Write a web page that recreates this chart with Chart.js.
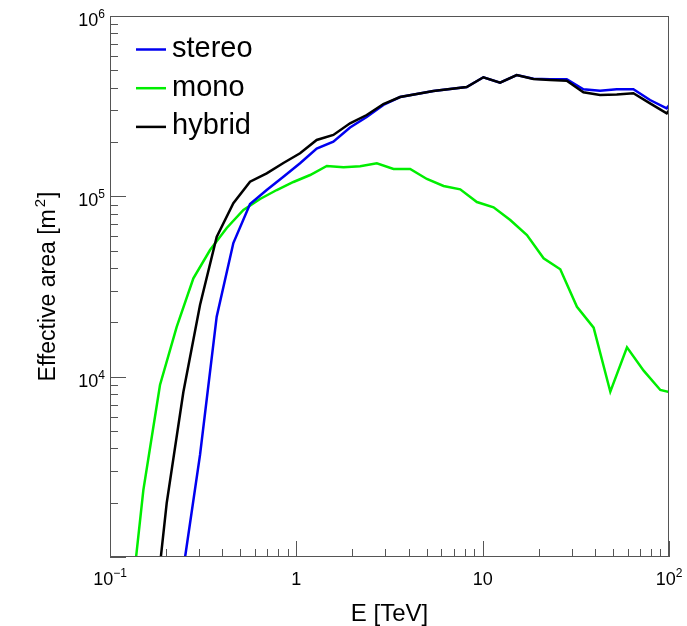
<!DOCTYPE html>
<html>
<head>
<meta charset="utf-8">
<title>Effective area</title>
<script src="https://cdn.jsdelivr.net/npm/chart.js@4.4.1/dist/chart.umd.min.js"></script>
<style>
  html, body { margin: 0; padding: 0; background: #ffffff; }
  #chart { display: block; }
</style>
</head>
<body>
<canvas id="chart" width="687" height="626"></canvas>
<script>
/* Effective area vs energy — stereo / mono / hybrid (log-log, ROOT look) */

// energy bins [TeV] for mono
var energyMono = [0.1229, 0.1510, 0.1855, 0.2280, 0.2802, 0.3443, 0.4231, 0.5200, 0.6389, 0.7852,
  0.9649, 1.186, 1.457, 1.791, 2.200, 2.704, 3.323, 4.083, 5.018, 6.166,
  7.577, 9.311, 11.44, 14.06, 17.28, 21.23, 26.09, 32.06, 39.40, 48.42,
  59.50, 73.11, 89.84, 110.4];
var monoArea = [330, 2350, 8990, 18900, 35100, 50400, 66800, 84000, 96700, 108400,
  120100, 131300, 147300, 144900, 147000, 152500, 141800, 141800, 124800, 114100,
  109400, 93000, 86900, 73900, 61000, 45300, 39400, 24400, 18700, 8250,
  14550, 10800, 8440, 8020];

// energy bins [TeV] for stereo and hybrid
var energyStereo = [0.1640, 0.2015, 0.2476, 0.3042, 0.3737, 0.4592, 0.5643, 0.6934, 0.8522, 1.047,
  1.286, 1.580, 1.942, 2.386, 2.932, 3.603, 4.428, 5.439, 6.683, 8.212,
  10.09, 12.40, 15.23, 18.72, 23.00, 28.26, 34.72, 42.66, 52.43, 64.41,
  79.14, 97.23, 119.5];
var stereoArea = [null, null, 860, 3680, 21500, 55100, 90700, 108400, 128500, 152500,
  184200, 200900, 240800, 275400, 321000, 355500, 369400, 383800, 393700, 404000,
  457200, 426700, 470800, 449000, 445600, 445600, 392200, 385300, 392200, 392200,
  342100, 307700, 410000];
var hybridArea = [280, 1990, 8220, 24970, 59500, 91500, 120500, 134200, 153000, 173200,
  205300, 218900, 254100, 282500, 325100, 355500, 369400, 383800, 393700, 404000,
  457200, 426700, 470800, 447300, 441700, 437700, 377500, 364700, 367100, 372700,
  328000, 288700, 374100];

var seriesNames = ['stereo', 'mono', 'hybrid'];

// tick labels: [base, exponent]
var xTickValues = [0.1, 1, 10, 100];
var xTickLabels = [['10', '\u22121'], ['1', ''], ['10', ''], ['10', '2']];
var yTickValues = [1e4, 1e5, 1e6];
var yTickLabels = [['10', '4'], ['10', '5'], ['10', '6']];

var xTitle = 'E [TeV]';
var yTitle = ['Effective area [m', '2', ']'];

var FONT = "'Liberation Sans', Arial, Helvetica, sans-serif";
var FRAME = '#555555';
var COLORS = { stereo: '#0000f0', mono: '#00ee00', hybrid: '#000000' };

function pairs(xs, ys) {
  return ys.map(function (v, i) { return { x: xs[i], y: v }; });
}

function drawPow(ctx, base, exp, x, y, align, size, supSize, rise) {
  ctx.font = size + 'px ' + FONT;
  var wb = ctx.measureText(base).width;
  ctx.font = supSize + 'px ' + FONT;
  var ws = exp ? ctx.measureText(exp).width : 0;
  var total = wb + ws;
  var start = align === 'right' ? x - total : x - total / 2;
  ctx.textAlign = 'left';
  ctx.textBaseline = 'alphabetic';
  ctx.font = size + 'px ' + FONT;
  ctx.fillText(base, start, y);
  if (exp) {
    ctx.font = supSize + 'px ' + FONT;
    ctx.fillText(exp, start + wb, y - rise);
  }
}

var rootAxes = {
  id: 'rootAxes',
  afterDatasetsDraw: function (chart) {
    var ctx = chart.ctx, a = chart.chartArea;
    var xs = chart.scales.x, ys = chart.scales.y;
    ctx.save();
    ctx.fillStyle = '#000';

    // frame
    ctx.strokeStyle = FRAME;
    ctx.lineWidth = 1;
    ctx.strokeRect(a.left + 0.5, a.top + 0.5, a.right - a.left - 1, a.bottom - a.top - 1);

    // ticks (inside, left and bottom only)
    ctx.beginPath();
    var e, m, v, p, len;
    for (e = -1; e <= 2; e++) {
      for (m = 1; m <= 9; m++) {
        v = m * Math.pow(10, e);
        if (v > 100.0001) break;
        p = Math.round(xs.getPixelForValue(v)) + 0.5;
        len = m === 1 ? 16 : 8;
        ctx.moveTo(p, a.bottom);
        ctx.lineTo(p, a.bottom - len);
      }
    }
    for (e = 3; e <= 6; e++) {
      for (m = 1; m <= 9; m++) {
        v = m * Math.pow(10, e);
        if (v > 1e6 + 1) break;
        p = Math.round(ys.getPixelForValue(v)) + 0.5;
        len = m === 1 ? 16 : 8;
        ctx.moveTo(a.left, p);
        ctx.lineTo(a.left + len, p);
      }
    }
    ctx.stroke();

    // tick labels
    xTickValues.forEach(function (val, i) {
      var px = xs.getPixelForValue(val);
      drawPow(ctx, xTickLabels[i][0], xTickLabels[i][1], px, a.bottom + 28, 'center', 18, 12, 8);
    });
    yTickValues.forEach(function (val, i) {
      var py = ys.getPixelForValue(val);
      drawPow(ctx, yTickLabels[i][0], yTickLabels[i][1], a.left - 5, py + 10, 'right', 18, 12, 8);
    });

    // axis titles
    ctx.font = '24px ' + FONT;
    ctx.textAlign = 'center';
    ctx.textBaseline = 'alphabetic';
    ctx.fillText(xTitle, (a.left + a.right) / 2, a.bottom + 64);

    ctx.save();
    ctx.translate(55, (a.top + a.bottom) / 2);
    ctx.rotate(-Math.PI / 2);
    ctx.font = '23px ' + FONT;
    var w1 = ctx.measureText(yTitle[0]).width;
    var w3 = ctx.measureText(yTitle[2]).width;
    ctx.font = '15px ' + FONT;
    var w2 = ctx.measureText(yTitle[1]).width + 3;
    var sx = -(w1 + w2 + w3) / 2;
    ctx.textAlign = 'left';
    ctx.font = '23px ' + FONT;
    ctx.fillText(yTitle[0], sx, 0);
    ctx.fillText(yTitle[2], sx + w1 + w2, 0);
    ctx.font = '15px ' + FONT;
    ctx.fillText(yTitle[1], sx + w1 + 2, -10);
    ctx.restore();

    // legend
    ctx.font = '29px ' + FONT;
    ctx.textAlign = 'left';
    ctx.textBaseline = 'alphabetic';
    ctx.lineWidth = 2.5;
    seriesNames.forEach(function (name, i) {
      var ly = a.top + 33.5 + i * 38.7;
      ctx.strokeStyle = COLORS[name];
      ctx.beginPath();
      ctx.moveTo(a.left + 26, ly);
      ctx.lineTo(a.left + 56, ly);
      ctx.stroke();
      ctx.fillStyle = '#000';
      ctx.fillText(name, a.left + 62, ly + 7.5);
    });

    ctx.restore();
  }
};

var lineBase = { borderWidth: 2.5, pointRadius: 0, fill: false, tension: 0, spanGaps: false };

new Chart(document.getElementById('chart'), {
  type: 'line',
  data: {
    datasets: [
      Object.assign({ label: 'stereo', data: pairs(energyStereo, stereoArea), borderColor: COLORS.stereo, order: 2 }, lineBase),
      Object.assign({ label: 'mono', data: pairs(energyMono, monoArea), borderColor: COLORS.mono, order: 3 }, lineBase),
      Object.assign({ label: 'hybrid', data: pairs(energyStereo, hybridArea), borderColor: COLORS.hybrid, order: 1 }, lineBase),
    ],
  },
  options: {
    responsive: false,
    animation: false,
    parsing: true,
    layout: { padding: { left: 110, top: 16, right: 18, bottom: 69 } },
    plugins: { legend: { display: false }, tooltip: { enabled: false } },
    scales: {
      x: { type: 'logarithmic', min: 0.1, max: 100, display: false },
      y: { type: 'logarithmic', min: 1000, max: 1e6, display: false },
    },
  },
  plugins: [rootAxes],
});
</script>
</body>
</html>
